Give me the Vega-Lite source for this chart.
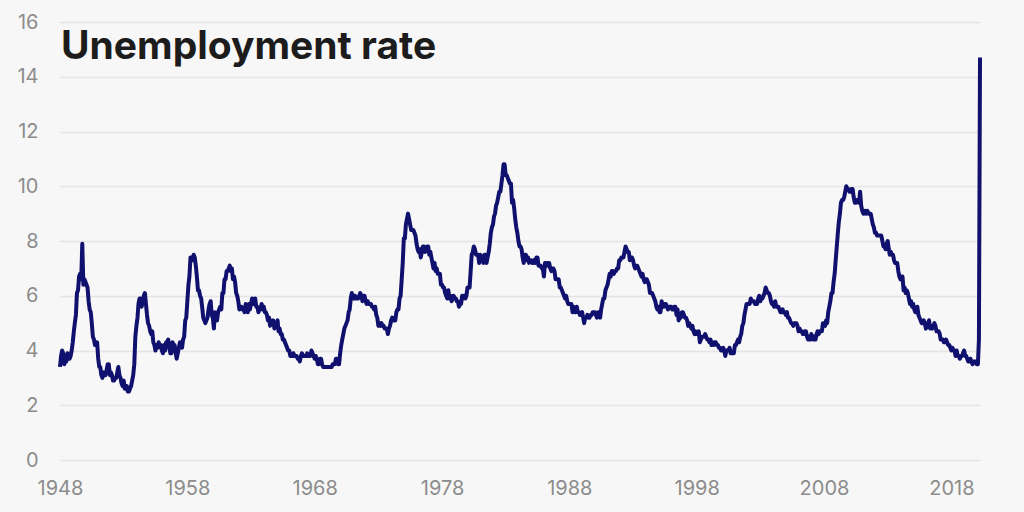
{
"$schema": "https://vega.github.io/schema/vega-lite/v6.json",
"width": 920, "height": 438,
"autosize": {"type": "none"},
"padding": {"left": 60, "top": 22, "right": 44, "bottom": 52},
"background": "#f7f7f7",
"config": {"view": {"stroke": null}, "font": "Inter"},
"title": {"text": "Unemployment rate", "anchor": "start", "frame": "group", "orient": "top", "offset": -38, "dy": 48, "baseline": "alphabetic", "fontSize": 39, "fontWeight": "bold", "font": "Inter", "color": "#1c1c1c", "dx": 1},
"datasets": {"u": [
{"d":"1948-01","v":3.4},{"d":"1948-02","v":3.8},{"d":"1948-03","v":4.0},{"d":"1948-04","v":3.9},{"d":"1948-05","v":3.5},{"d":"1948-06","v":3.6},{"d":"1948-07","v":3.6},{"d":"1948-08","v":3.9},{"d":"1948-09","v":3.8},{"d":"1948-10","v":3.7},{"d":"1948-11","v":3.8},{"d":"1948-12","v":4.0},
{"d":"1949-01","v":4.3},{"d":"1949-02","v":4.7},{"d":"1949-03","v":5.0},{"d":"1949-04","v":5.3},{"d":"1949-05","v":6.1},{"d":"1949-06","v":6.2},{"d":"1949-07","v":6.7},{"d":"1949-08","v":6.8},{"d":"1949-09","v":6.6},{"d":"1949-10","v":7.9},{"d":"1949-11","v":6.4},{"d":"1949-12","v":6.6},
{"d":"1950-01","v":6.5},{"d":"1950-02","v":6.4},{"d":"1950-03","v":6.3},{"d":"1950-04","v":5.8},{"d":"1950-05","v":5.5},{"d":"1950-06","v":5.4},{"d":"1950-07","v":5.0},{"d":"1950-08","v":4.5},{"d":"1950-09","v":4.4},{"d":"1950-10","v":4.2},{"d":"1950-11","v":4.2},{"d":"1950-12","v":4.3},
{"d":"1951-01","v":3.7},{"d":"1951-02","v":3.4},{"d":"1951-03","v":3.4},{"d":"1951-04","v":3.1},{"d":"1951-05","v":3.0},{"d":"1951-06","v":3.2},{"d":"1951-07","v":3.1},{"d":"1951-08","v":3.1},{"d":"1951-09","v":3.3},{"d":"1951-10","v":3.5},{"d":"1951-11","v":3.5},{"d":"1951-12","v":3.1},
{"d":"1952-01","v":3.2},{"d":"1952-02","v":3.1},{"d":"1952-03","v":2.9},{"d":"1952-04","v":2.9},{"d":"1952-05","v":3.0},{"d":"1952-06","v":3.0},{"d":"1952-07","v":3.2},{"d":"1952-08","v":3.4},{"d":"1952-09","v":3.1},{"d":"1952-10","v":3.0},{"d":"1952-11","v":2.8},{"d":"1952-12","v":2.7},
{"d":"1953-01","v":2.9},{"d":"1953-02","v":2.6},{"d":"1953-03","v":2.6},{"d":"1953-04","v":2.7},{"d":"1953-05","v":2.5},{"d":"1953-06","v":2.5},{"d":"1953-07","v":2.6},{"d":"1953-08","v":2.7},{"d":"1953-09","v":2.9},{"d":"1953-10","v":3.1},{"d":"1953-11","v":3.5},{"d":"1953-12","v":4.5},
{"d":"1954-01","v":4.9},{"d":"1954-02","v":5.2},{"d":"1954-03","v":5.7},{"d":"1954-04","v":5.9},{"d":"1954-05","v":5.9},{"d":"1954-06","v":5.6},{"d":"1954-07","v":5.8},{"d":"1954-08","v":6.0},{"d":"1954-09","v":6.1},{"d":"1954-10","v":5.7},{"d":"1954-11","v":5.3},{"d":"1954-12","v":5.0},
{"d":"1955-01","v":4.9},{"d":"1955-02","v":4.7},{"d":"1955-03","v":4.6},{"d":"1955-04","v":4.7},{"d":"1955-05","v":4.3},{"d":"1955-06","v":4.2},{"d":"1955-07","v":4.0},{"d":"1955-08","v":4.2},{"d":"1955-09","v":4.1},{"d":"1955-10","v":4.3},{"d":"1955-11","v":4.2},{"d":"1955-12","v":4.2},
{"d":"1956-01","v":4.0},{"d":"1956-02","v":3.9},{"d":"1956-03","v":4.2},{"d":"1956-04","v":4.0},{"d":"1956-05","v":4.3},{"d":"1956-06","v":4.3},{"d":"1956-07","v":4.4},{"d":"1956-08","v":4.1},{"d":"1956-09","v":3.9},{"d":"1956-10","v":3.9},{"d":"1956-11","v":4.3},{"d":"1956-12","v":4.2},
{"d":"1957-01","v":4.2},{"d":"1957-02","v":3.9},{"d":"1957-03","v":3.7},{"d":"1957-04","v":3.9},{"d":"1957-05","v":4.1},{"d":"1957-06","v":4.3},{"d":"1957-07","v":4.2},{"d":"1957-08","v":4.1},{"d":"1957-09","v":4.4},{"d":"1957-10","v":4.5},{"d":"1957-11","v":5.1},{"d":"1957-12","v":5.2},
{"d":"1958-01","v":5.8},{"d":"1958-02","v":6.4},{"d":"1958-03","v":6.7},{"d":"1958-04","v":7.4},{"d":"1958-05","v":7.4},{"d":"1958-06","v":7.3},{"d":"1958-07","v":7.5},{"d":"1958-08","v":7.4},{"d":"1958-09","v":7.1},{"d":"1958-10","v":6.7},{"d":"1958-11","v":6.2},{"d":"1958-12","v":6.2},
{"d":"1959-01","v":6.0},{"d":"1959-02","v":5.9},{"d":"1959-03","v":5.6},{"d":"1959-04","v":5.2},{"d":"1959-05","v":5.1},{"d":"1959-06","v":5.0},{"d":"1959-07","v":5.1},{"d":"1959-08","v":5.2},{"d":"1959-09","v":5.5},{"d":"1959-10","v":5.7},{"d":"1959-11","v":5.8},{"d":"1959-12","v":5.3},
{"d":"1960-01","v":5.2},{"d":"1960-02","v":4.8},{"d":"1960-03","v":5.4},{"d":"1960-04","v":5.2},{"d":"1960-05","v":5.1},{"d":"1960-06","v":5.4},{"d":"1960-07","v":5.5},{"d":"1960-08","v":5.6},{"d":"1960-09","v":5.5},{"d":"1960-10","v":6.1},{"d":"1960-11","v":6.1},{"d":"1960-12","v":6.6},
{"d":"1961-01","v":6.6},{"d":"1961-02","v":6.9},{"d":"1961-03","v":6.9},{"d":"1961-04","v":7.0},{"d":"1961-05","v":7.1},{"d":"1961-06","v":6.9},{"d":"1961-07","v":7.0},{"d":"1961-08","v":6.6},{"d":"1961-09","v":6.7},{"d":"1961-10","v":6.5},{"d":"1961-11","v":6.1},{"d":"1961-12","v":6.0},
{"d":"1962-01","v":5.8},{"d":"1962-02","v":5.5},{"d":"1962-03","v":5.6},{"d":"1962-04","v":5.6},{"d":"1962-05","v":5.5},{"d":"1962-06","v":5.5},{"d":"1962-07","v":5.4},{"d":"1962-08","v":5.7},{"d":"1962-09","v":5.6},{"d":"1962-10","v":5.4},{"d":"1962-11","v":5.7},{"d":"1962-12","v":5.5},
{"d":"1963-01","v":5.7},{"d":"1963-02","v":5.9},{"d":"1963-03","v":5.7},{"d":"1963-04","v":5.7},{"d":"1963-05","v":5.9},{"d":"1963-06","v":5.6},{"d":"1963-07","v":5.6},{"d":"1963-08","v":5.4},{"d":"1963-09","v":5.5},{"d":"1963-10","v":5.5},{"d":"1963-11","v":5.7},{"d":"1963-12","v":5.5},
{"d":"1964-01","v":5.6},{"d":"1964-02","v":5.4},{"d":"1964-03","v":5.4},{"d":"1964-04","v":5.3},{"d":"1964-05","v":5.1},{"d":"1964-06","v":5.2},{"d":"1964-07","v":4.9},{"d":"1964-08","v":5.0},{"d":"1964-09","v":5.1},{"d":"1964-10","v":5.1},{"d":"1964-11","v":4.8},{"d":"1964-12","v":5.0},
{"d":"1965-01","v":4.9},{"d":"1965-02","v":5.1},{"d":"1965-03","v":4.7},{"d":"1965-04","v":4.8},{"d":"1965-05","v":4.6},{"d":"1965-06","v":4.6},{"d":"1965-07","v":4.4},{"d":"1965-08","v":4.4},{"d":"1965-09","v":4.3},{"d":"1965-10","v":4.2},{"d":"1965-11","v":4.1},{"d":"1965-12","v":4.0},
{"d":"1966-01","v":4.0},{"d":"1966-02","v":3.8},{"d":"1966-03","v":3.8},{"d":"1966-04","v":3.8},{"d":"1966-05","v":3.9},{"d":"1966-06","v":3.8},{"d":"1966-07","v":3.8},{"d":"1966-08","v":3.8},{"d":"1966-09","v":3.7},{"d":"1966-10","v":3.7},{"d":"1966-11","v":3.6},{"d":"1966-12","v":3.8},
{"d":"1967-01","v":3.9},{"d":"1967-02","v":3.8},{"d":"1967-03","v":3.8},{"d":"1967-04","v":3.8},{"d":"1967-05","v":3.8},{"d":"1967-06","v":3.9},{"d":"1967-07","v":3.8},{"d":"1967-08","v":3.8},{"d":"1967-09","v":3.8},{"d":"1967-10","v":4.0},{"d":"1967-11","v":3.9},{"d":"1967-12","v":3.8},
{"d":"1968-01","v":3.7},{"d":"1968-02","v":3.8},{"d":"1968-03","v":3.7},{"d":"1968-04","v":3.5},{"d":"1968-05","v":3.5},{"d":"1968-06","v":3.7},{"d":"1968-07","v":3.7},{"d":"1968-08","v":3.5},{"d":"1968-09","v":3.4},{"d":"1968-10","v":3.4},{"d":"1968-11","v":3.4},{"d":"1968-12","v":3.4},
{"d":"1969-01","v":3.4},{"d":"1969-02","v":3.4},{"d":"1969-03","v":3.4},{"d":"1969-04","v":3.4},{"d":"1969-05","v":3.4},{"d":"1969-06","v":3.5},{"d":"1969-07","v":3.5},{"d":"1969-08","v":3.5},{"d":"1969-09","v":3.7},{"d":"1969-10","v":3.7},{"d":"1969-11","v":3.5},{"d":"1969-12","v":3.5},
{"d":"1970-01","v":3.9},{"d":"1970-02","v":4.2},{"d":"1970-03","v":4.4},{"d":"1970-04","v":4.6},{"d":"1970-05","v":4.8},{"d":"1970-06","v":4.9},{"d":"1970-07","v":5.0},{"d":"1970-08","v":5.1},{"d":"1970-09","v":5.4},{"d":"1970-10","v":5.5},{"d":"1970-11","v":5.9},{"d":"1970-12","v":6.1},
{"d":"1971-01","v":5.9},{"d":"1971-02","v":5.9},{"d":"1971-03","v":6.0},{"d":"1971-04","v":5.9},{"d":"1971-05","v":5.9},{"d":"1971-06","v":5.9},{"d":"1971-07","v":6.0},{"d":"1971-08","v":6.1},{"d":"1971-09","v":6.0},{"d":"1971-10","v":5.8},{"d":"1971-11","v":6.0},{"d":"1971-12","v":6.0},
{"d":"1972-01","v":5.8},{"d":"1972-02","v":5.7},{"d":"1972-03","v":5.8},{"d":"1972-04","v":5.7},{"d":"1972-05","v":5.7},{"d":"1972-06","v":5.7},{"d":"1972-07","v":5.6},{"d":"1972-08","v":5.6},{"d":"1972-09","v":5.5},{"d":"1972-10","v":5.6},{"d":"1972-11","v":5.3},{"d":"1972-12","v":5.2},
{"d":"1973-01","v":4.9},{"d":"1973-02","v":5.0},{"d":"1973-03","v":4.9},{"d":"1973-04","v":5.0},{"d":"1973-05","v":4.9},{"d":"1973-06","v":4.9},{"d":"1973-07","v":4.8},{"d":"1973-08","v":4.8},{"d":"1973-09","v":4.8},{"d":"1973-10","v":4.6},{"d":"1973-11","v":4.8},{"d":"1973-12","v":4.9},
{"d":"1974-01","v":5.1},{"d":"1974-02","v":5.2},{"d":"1974-03","v":5.1},{"d":"1974-04","v":5.1},{"d":"1974-05","v":5.1},{"d":"1974-06","v":5.4},{"d":"1974-07","v":5.5},{"d":"1974-08","v":5.5},{"d":"1974-09","v":5.9},{"d":"1974-10","v":6.0},{"d":"1974-11","v":6.6},{"d":"1974-12","v":7.2},
{"d":"1975-01","v":8.1},{"d":"1975-02","v":8.1},{"d":"1975-03","v":8.6},{"d":"1975-04","v":8.8},{"d":"1975-05","v":9.0},{"d":"1975-06","v":8.8},{"d":"1975-07","v":8.6},{"d":"1975-08","v":8.4},{"d":"1975-09","v":8.4},{"d":"1975-10","v":8.4},{"d":"1975-11","v":8.3},{"d":"1975-12","v":8.2},
{"d":"1976-01","v":7.9},{"d":"1976-02","v":7.7},{"d":"1976-03","v":7.6},{"d":"1976-04","v":7.7},{"d":"1976-05","v":7.4},{"d":"1976-06","v":7.6},{"d":"1976-07","v":7.8},{"d":"1976-08","v":7.8},{"d":"1976-09","v":7.6},{"d":"1976-10","v":7.7},{"d":"1976-11","v":7.8},{"d":"1976-12","v":7.8},
{"d":"1977-01","v":7.5},{"d":"1977-02","v":7.6},{"d":"1977-03","v":7.4},{"d":"1977-04","v":7.2},{"d":"1977-05","v":7.0},{"d":"1977-06","v":7.2},{"d":"1977-07","v":6.9},{"d":"1977-08","v":7.0},{"d":"1977-09","v":6.8},{"d":"1977-10","v":6.8},{"d":"1977-11","v":6.8},{"d":"1977-12","v":6.4},
{"d":"1978-01","v":6.4},{"d":"1978-02","v":6.3},{"d":"1978-03","v":6.3},{"d":"1978-04","v":6.1},{"d":"1978-05","v":6.0},{"d":"1978-06","v":5.9},{"d":"1978-07","v":6.2},{"d":"1978-08","v":5.9},{"d":"1978-09","v":6.0},{"d":"1978-10","v":5.8},{"d":"1978-11","v":5.9},{"d":"1978-12","v":6.0},
{"d":"1979-01","v":5.9},{"d":"1979-02","v":5.9},{"d":"1979-03","v":5.8},{"d":"1979-04","v":5.8},{"d":"1979-05","v":5.6},{"d":"1979-06","v":5.7},{"d":"1979-07","v":5.7},{"d":"1979-08","v":6.0},{"d":"1979-09","v":5.9},{"d":"1979-10","v":6.0},{"d":"1979-11","v":5.9},{"d":"1979-12","v":6.0},
{"d":"1980-01","v":6.3},{"d":"1980-02","v":6.3},{"d":"1980-03","v":6.3},{"d":"1980-04","v":6.9},{"d":"1980-05","v":7.5},{"d":"1980-06","v":7.6},{"d":"1980-07","v":7.8},{"d":"1980-08","v":7.7},{"d":"1980-09","v":7.5},{"d":"1980-10","v":7.5},{"d":"1980-11","v":7.5},{"d":"1980-12","v":7.2},
{"d":"1981-01","v":7.5},{"d":"1981-02","v":7.4},{"d":"1981-03","v":7.4},{"d":"1981-04","v":7.2},{"d":"1981-05","v":7.5},{"d":"1981-06","v":7.5},{"d":"1981-07","v":7.2},{"d":"1981-08","v":7.4},{"d":"1981-09","v":7.6},{"d":"1981-10","v":7.9},{"d":"1981-11","v":8.3},{"d":"1981-12","v":8.5},
{"d":"1982-01","v":8.6},{"d":"1982-02","v":8.9},{"d":"1982-03","v":9.0},{"d":"1982-04","v":9.3},{"d":"1982-05","v":9.4},{"d":"1982-06","v":9.6},{"d":"1982-07","v":9.8},{"d":"1982-08","v":9.8},{"d":"1982-09","v":10.1},{"d":"1982-10","v":10.4},{"d":"1982-11","v":10.8},{"d":"1982-12","v":10.8},
{"d":"1983-01","v":10.4},{"d":"1983-02","v":10.4},{"d":"1983-03","v":10.3},{"d":"1983-04","v":10.2},{"d":"1983-05","v":10.1},{"d":"1983-06","v":10.1},{"d":"1983-07","v":9.4},{"d":"1983-08","v":9.5},{"d":"1983-09","v":9.2},{"d":"1983-10","v":8.8},{"d":"1983-11","v":8.5},{"d":"1983-12","v":8.3},
{"d":"1984-01","v":8.0},{"d":"1984-02","v":7.8},{"d":"1984-03","v":7.8},{"d":"1984-04","v":7.7},{"d":"1984-05","v":7.4},{"d":"1984-06","v":7.2},{"d":"1984-07","v":7.5},{"d":"1984-08","v":7.5},{"d":"1984-09","v":7.3},{"d":"1984-10","v":7.4},{"d":"1984-11","v":7.2},{"d":"1984-12","v":7.3},
{"d":"1985-01","v":7.3},{"d":"1985-02","v":7.2},{"d":"1985-03","v":7.2},{"d":"1985-04","v":7.3},{"d":"1985-05","v":7.2},{"d":"1985-06","v":7.4},{"d":"1985-07","v":7.4},{"d":"1985-08","v":7.1},{"d":"1985-09","v":7.1},{"d":"1985-10","v":7.1},{"d":"1985-11","v":7.0},{"d":"1985-12","v":7.0},
{"d":"1986-01","v":6.7},{"d":"1986-02","v":7.2},{"d":"1986-03","v":7.2},{"d":"1986-04","v":7.1},{"d":"1986-05","v":7.2},{"d":"1986-06","v":7.2},{"d":"1986-07","v":7.0},{"d":"1986-08","v":6.9},{"d":"1986-09","v":7.0},{"d":"1986-10","v":7.0},{"d":"1986-11","v":6.9},{"d":"1986-12","v":6.6},
{"d":"1987-01","v":6.6},{"d":"1987-02","v":6.6},{"d":"1987-03","v":6.6},{"d":"1987-04","v":6.3},{"d":"1987-05","v":6.3},{"d":"1987-06","v":6.2},{"d":"1987-07","v":6.1},{"d":"1987-08","v":6.0},{"d":"1987-09","v":5.9},{"d":"1987-10","v":6.0},{"d":"1987-11","v":5.8},{"d":"1987-12","v":5.7},
{"d":"1988-01","v":5.7},{"d":"1988-02","v":5.7},{"d":"1988-03","v":5.7},{"d":"1988-04","v":5.4},{"d":"1988-05","v":5.6},{"d":"1988-06","v":5.4},{"d":"1988-07","v":5.4},{"d":"1988-08","v":5.6},{"d":"1988-09","v":5.4},{"d":"1988-10","v":5.4},{"d":"1988-11","v":5.3},{"d":"1988-12","v":5.3},
{"d":"1989-01","v":5.4},{"d":"1989-02","v":5.2},{"d":"1989-03","v":5.0},{"d":"1989-04","v":5.2},{"d":"1989-05","v":5.2},{"d":"1989-06","v":5.3},{"d":"1989-07","v":5.2},{"d":"1989-08","v":5.2},{"d":"1989-09","v":5.3},{"d":"1989-10","v":5.3},{"d":"1989-11","v":5.4},{"d":"1989-12","v":5.4},
{"d":"1990-01","v":5.4},{"d":"1990-02","v":5.3},{"d":"1990-03","v":5.2},{"d":"1990-04","v":5.4},{"d":"1990-05","v":5.4},{"d":"1990-06","v":5.2},{"d":"1990-07","v":5.5},{"d":"1990-08","v":5.7},{"d":"1990-09","v":5.9},{"d":"1990-10","v":5.9},{"d":"1990-11","v":6.2},{"d":"1990-12","v":6.3},
{"d":"1991-01","v":6.4},{"d":"1991-02","v":6.6},{"d":"1991-03","v":6.8},{"d":"1991-04","v":6.7},{"d":"1991-05","v":6.9},{"d":"1991-06","v":6.9},{"d":"1991-07","v":6.8},{"d":"1991-08","v":6.9},{"d":"1991-09","v":6.9},{"d":"1991-10","v":7.0},{"d":"1991-11","v":7.0},{"d":"1991-12","v":7.3},
{"d":"1992-01","v":7.3},{"d":"1992-02","v":7.4},{"d":"1992-03","v":7.4},{"d":"1992-04","v":7.4},{"d":"1992-05","v":7.6},{"d":"1992-06","v":7.8},{"d":"1992-07","v":7.7},{"d":"1992-08","v":7.6},{"d":"1992-09","v":7.6},{"d":"1992-10","v":7.3},{"d":"1992-11","v":7.4},{"d":"1992-12","v":7.4},
{"d":"1993-01","v":7.3},{"d":"1993-02","v":7.1},{"d":"1993-03","v":7.0},{"d":"1993-04","v":7.1},{"d":"1993-05","v":7.1},{"d":"1993-06","v":7.0},{"d":"1993-07","v":6.9},{"d":"1993-08","v":6.8},{"d":"1993-09","v":6.7},{"d":"1993-10","v":6.8},{"d":"1993-11","v":6.6},{"d":"1993-12","v":6.5},
{"d":"1994-01","v":6.6},{"d":"1994-02","v":6.6},{"d":"1994-03","v":6.5},{"d":"1994-04","v":6.4},{"d":"1994-05","v":6.1},{"d":"1994-06","v":6.1},{"d":"1994-07","v":6.1},{"d":"1994-08","v":6.0},{"d":"1994-09","v":5.9},{"d":"1994-10","v":5.8},{"d":"1994-11","v":5.6},{"d":"1994-12","v":5.5},
{"d":"1995-01","v":5.6},{"d":"1995-02","v":5.4},{"d":"1995-03","v":5.4},{"d":"1995-04","v":5.8},{"d":"1995-05","v":5.6},{"d":"1995-06","v":5.6},{"d":"1995-07","v":5.7},{"d":"1995-08","v":5.7},{"d":"1995-09","v":5.6},{"d":"1995-10","v":5.5},{"d":"1995-11","v":5.6},{"d":"1995-12","v":5.6},
{"d":"1996-01","v":5.6},{"d":"1996-02","v":5.5},{"d":"1996-03","v":5.5},{"d":"1996-04","v":5.6},{"d":"1996-05","v":5.6},{"d":"1996-06","v":5.3},{"d":"1996-07","v":5.5},{"d":"1996-08","v":5.1},{"d":"1996-09","v":5.2},{"d":"1996-10","v":5.2},{"d":"1996-11","v":5.4},{"d":"1996-12","v":5.4},
{"d":"1997-01","v":5.3},{"d":"1997-02","v":5.2},{"d":"1997-03","v":5.2},{"d":"1997-04","v":5.1},{"d":"1997-05","v":4.9},{"d":"1997-06","v":5.0},{"d":"1997-07","v":4.9},{"d":"1997-08","v":4.8},{"d":"1997-09","v":4.9},{"d":"1997-10","v":4.7},{"d":"1997-11","v":4.6},{"d":"1997-12","v":4.7},
{"d":"1998-01","v":4.6},{"d":"1998-02","v":4.6},{"d":"1998-03","v":4.7},{"d":"1998-04","v":4.3},{"d":"1998-05","v":4.4},{"d":"1998-06","v":4.5},{"d":"1998-07","v":4.5},{"d":"1998-08","v":4.5},{"d":"1998-09","v":4.6},{"d":"1998-10","v":4.5},{"d":"1998-11","v":4.4},{"d":"1998-12","v":4.4},
{"d":"1999-01","v":4.3},{"d":"1999-02","v":4.4},{"d":"1999-03","v":4.2},{"d":"1999-04","v":4.3},{"d":"1999-05","v":4.2},{"d":"1999-06","v":4.3},{"d":"1999-07","v":4.3},{"d":"1999-08","v":4.2},{"d":"1999-09","v":4.2},{"d":"1999-10","v":4.1},{"d":"1999-11","v":4.1},{"d":"1999-12","v":4.0},
{"d":"2000-01","v":4.0},{"d":"2000-02","v":4.1},{"d":"2000-03","v":4.0},{"d":"2000-04","v":3.8},{"d":"2000-05","v":4.0},{"d":"2000-06","v":4.0},{"d":"2000-07","v":4.0},{"d":"2000-08","v":4.1},{"d":"2000-09","v":3.9},{"d":"2000-10","v":3.9},{"d":"2000-11","v":3.9},{"d":"2000-12","v":3.9},
{"d":"2001-01","v":4.2},{"d":"2001-02","v":4.2},{"d":"2001-03","v":4.3},{"d":"2001-04","v":4.4},{"d":"2001-05","v":4.3},{"d":"2001-06","v":4.5},{"d":"2001-07","v":4.6},{"d":"2001-08","v":4.9},{"d":"2001-09","v":5.0},{"d":"2001-10","v":5.3},{"d":"2001-11","v":5.5},{"d":"2001-12","v":5.7},
{"d":"2002-01","v":5.7},{"d":"2002-02","v":5.7},{"d":"2002-03","v":5.7},{"d":"2002-04","v":5.9},{"d":"2002-05","v":5.8},{"d":"2002-06","v":5.8},{"d":"2002-07","v":5.8},{"d":"2002-08","v":5.7},{"d":"2002-09","v":5.7},{"d":"2002-10","v":5.7},{"d":"2002-11","v":5.9},{"d":"2002-12","v":6.0},
{"d":"2003-01","v":5.8},{"d":"2003-02","v":5.9},{"d":"2003-03","v":5.9},{"d":"2003-04","v":6.0},{"d":"2003-05","v":6.1},{"d":"2003-06","v":6.3},{"d":"2003-07","v":6.2},{"d":"2003-08","v":6.1},{"d":"2003-09","v":6.1},{"d":"2003-10","v":6.0},{"d":"2003-11","v":5.8},{"d":"2003-12","v":5.7},
{"d":"2004-01","v":5.7},{"d":"2004-02","v":5.6},{"d":"2004-03","v":5.8},{"d":"2004-04","v":5.6},{"d":"2004-05","v":5.6},{"d":"2004-06","v":5.6},{"d":"2004-07","v":5.5},{"d":"2004-08","v":5.4},{"d":"2004-09","v":5.4},{"d":"2004-10","v":5.5},{"d":"2004-11","v":5.4},{"d":"2004-12","v":5.4},
{"d":"2005-01","v":5.3},{"d":"2005-02","v":5.4},{"d":"2005-03","v":5.2},{"d":"2005-04","v":5.2},{"d":"2005-05","v":5.1},{"d":"2005-06","v":5.0},{"d":"2005-07","v":5.0},{"d":"2005-08","v":4.9},{"d":"2005-09","v":5.0},{"d":"2005-10","v":5.0},{"d":"2005-11","v":5.0},{"d":"2005-12","v":4.9},
{"d":"2006-01","v":4.7},{"d":"2006-02","v":4.8},{"d":"2006-03","v":4.7},{"d":"2006-04","v":4.7},{"d":"2006-05","v":4.6},{"d":"2006-06","v":4.6},{"d":"2006-07","v":4.7},{"d":"2006-08","v":4.7},{"d":"2006-09","v":4.5},{"d":"2006-10","v":4.4},{"d":"2006-11","v":4.5},{"d":"2006-12","v":4.4},
{"d":"2007-01","v":4.6},{"d":"2007-02","v":4.5},{"d":"2007-03","v":4.4},{"d":"2007-04","v":4.5},{"d":"2007-05","v":4.4},{"d":"2007-06","v":4.6},{"d":"2007-07","v":4.7},{"d":"2007-08","v":4.6},{"d":"2007-09","v":4.7},{"d":"2007-10","v":4.7},{"d":"2007-11","v":4.7},{"d":"2007-12","v":5.0},
{"d":"2008-01","v":5.0},{"d":"2008-02","v":4.9},{"d":"2008-03","v":5.1},{"d":"2008-04","v":5.0},{"d":"2008-05","v":5.4},{"d":"2008-06","v":5.6},{"d":"2008-07","v":5.8},{"d":"2008-08","v":6.1},{"d":"2008-09","v":6.1},{"d":"2008-10","v":6.5},{"d":"2008-11","v":6.8},{"d":"2008-12","v":7.3},
{"d":"2009-01","v":7.8},{"d":"2009-02","v":8.3},{"d":"2009-03","v":8.7},{"d":"2009-04","v":9.0},{"d":"2009-05","v":9.4},{"d":"2009-06","v":9.5},{"d":"2009-07","v":9.5},{"d":"2009-08","v":9.6},{"d":"2009-09","v":9.8},{"d":"2009-10","v":10.0},{"d":"2009-11","v":9.9},{"d":"2009-12","v":9.9},
{"d":"2010-01","v":9.8},{"d":"2010-02","v":9.8},{"d":"2010-03","v":9.9},{"d":"2010-04","v":9.9},{"d":"2010-05","v":9.6},{"d":"2010-06","v":9.4},{"d":"2010-07","v":9.4},{"d":"2010-08","v":9.5},{"d":"2010-09","v":9.5},{"d":"2010-10","v":9.4},{"d":"2010-11","v":9.8},{"d":"2010-12","v":9.3},
{"d":"2011-01","v":9.1},{"d":"2011-02","v":9.0},{"d":"2011-03","v":9.0},{"d":"2011-04","v":9.1},{"d":"2011-05","v":9.0},{"d":"2011-06","v":9.1},{"d":"2011-07","v":9.0},{"d":"2011-08","v":9.0},{"d":"2011-09","v":9.0},{"d":"2011-10","v":8.8},{"d":"2011-11","v":8.6},{"d":"2011-12","v":8.5},
{"d":"2012-01","v":8.3},{"d":"2012-02","v":8.3},{"d":"2012-03","v":8.2},{"d":"2012-04","v":8.2},{"d":"2012-05","v":8.2},{"d":"2012-06","v":8.2},{"d":"2012-07","v":8.2},{"d":"2012-08","v":8.0},{"d":"2012-09","v":7.8},{"d":"2012-10","v":7.8},{"d":"2012-11","v":7.7},{"d":"2012-12","v":7.9},
{"d":"2013-01","v":8.0},{"d":"2013-02","v":7.7},{"d":"2013-03","v":7.5},{"d":"2013-04","v":7.6},{"d":"2013-05","v":7.5},{"d":"2013-06","v":7.5},{"d":"2013-07","v":7.3},{"d":"2013-08","v":7.2},{"d":"2013-09","v":7.2},{"d":"2013-10","v":7.2},{"d":"2013-11","v":6.9},{"d":"2013-12","v":6.7},
{"d":"2014-01","v":6.6},{"d":"2014-02","v":6.7},{"d":"2014-03","v":6.7},{"d":"2014-04","v":6.2},{"d":"2014-05","v":6.3},{"d":"2014-06","v":6.1},{"d":"2014-07","v":6.2},{"d":"2014-08","v":6.1},{"d":"2014-09","v":5.9},{"d":"2014-10","v":5.7},{"d":"2014-11","v":5.8},{"d":"2014-12","v":5.6},
{"d":"2015-01","v":5.7},{"d":"2015-02","v":5.5},{"d":"2015-03","v":5.4},{"d":"2015-04","v":5.4},{"d":"2015-05","v":5.6},{"d":"2015-06","v":5.3},{"d":"2015-07","v":5.2},{"d":"2015-08","v":5.1},{"d":"2015-09","v":5.0},{"d":"2015-10","v":5.0},{"d":"2015-11","v":5.1},{"d":"2015-12","v":5.0},
{"d":"2016-01","v":4.8},{"d":"2016-02","v":4.9},{"d":"2016-03","v":5.0},{"d":"2016-04","v":5.1},{"d":"2016-05","v":4.8},{"d":"2016-06","v":4.9},{"d":"2016-07","v":4.8},{"d":"2016-08","v":4.9},{"d":"2016-09","v":5.0},{"d":"2016-10","v":4.9},{"d":"2016-11","v":4.7},{"d":"2016-12","v":4.7},
{"d":"2017-01","v":4.7},{"d":"2017-02","v":4.6},{"d":"2017-03","v":4.4},{"d":"2017-04","v":4.4},{"d":"2017-05","v":4.4},{"d":"2017-06","v":4.3},{"d":"2017-07","v":4.3},{"d":"2017-08","v":4.4},{"d":"2017-09","v":4.3},{"d":"2017-10","v":4.2},{"d":"2017-11","v":4.2},{"d":"2017-12","v":4.1},
{"d":"2018-01","v":4.0},{"d":"2018-02","v":4.1},{"d":"2018-03","v":4.0},{"d":"2018-04","v":4.0},{"d":"2018-05","v":3.8},{"d":"2018-06","v":4.0},{"d":"2018-07","v":3.8},{"d":"2018-08","v":3.8},{"d":"2018-09","v":3.7},{"d":"2018-10","v":3.8},{"d":"2018-11","v":3.8},{"d":"2018-12","v":3.9},
{"d":"2019-01","v":4.0},{"d":"2019-02","v":3.8},{"d":"2019-03","v":3.8},{"d":"2019-04","v":3.7},{"d":"2019-05","v":3.6},{"d":"2019-06","v":3.6},{"d":"2019-07","v":3.7},{"d":"2019-08","v":3.6},{"d":"2019-09","v":3.5},{"d":"2019-10","v":3.6},{"d":"2019-11","v":3.6},{"d":"2019-12","v":3.6},
{"d":"2020-01","v":3.5},{"d":"2020-02","v":3.5},{"d":"2020-03","v":4.4},{"d":"2020-04","v":14.7}
]},
"data": {"name": "u"},
"mark": {"type": "line", "color": "#10106e", "strokeWidth": 4, "strokeJoin": "round"},
"encoding": {
  "x": {"field": "d", "type": "temporal", "scale": {"nice": false},
    "axis": {"title": null, "format": "%Y", "values": [{"year":1948},{"year":1958},{"year":1968},{"year":1978},{"year":1988},{"year":1998},{"year":2008},{"year":2018}],
      "grid": false, "domain": false, "ticks": false, "labelFont": "Inter", "labelFontSize": 20, "labelColor": "#8c8c8c", "labelPadding": 18, "labelFlush": false}},
  "y": {"field": "v", "type": "quantitative", "scale": {"domain": [0, 16], "nice": false},
    "axis": {"title": null, "values": [0,2,4,6,8,10,12,14,16], "grid": true, "gridColor": "#e4e4e4", "gridWidth": 1.5, "domain": false, "ticks": false,
      "labelFont": "Inter", "labelFontSize": 20, "labelColor": "#8c8c8c", "labelPadding": 22}}
}
}
